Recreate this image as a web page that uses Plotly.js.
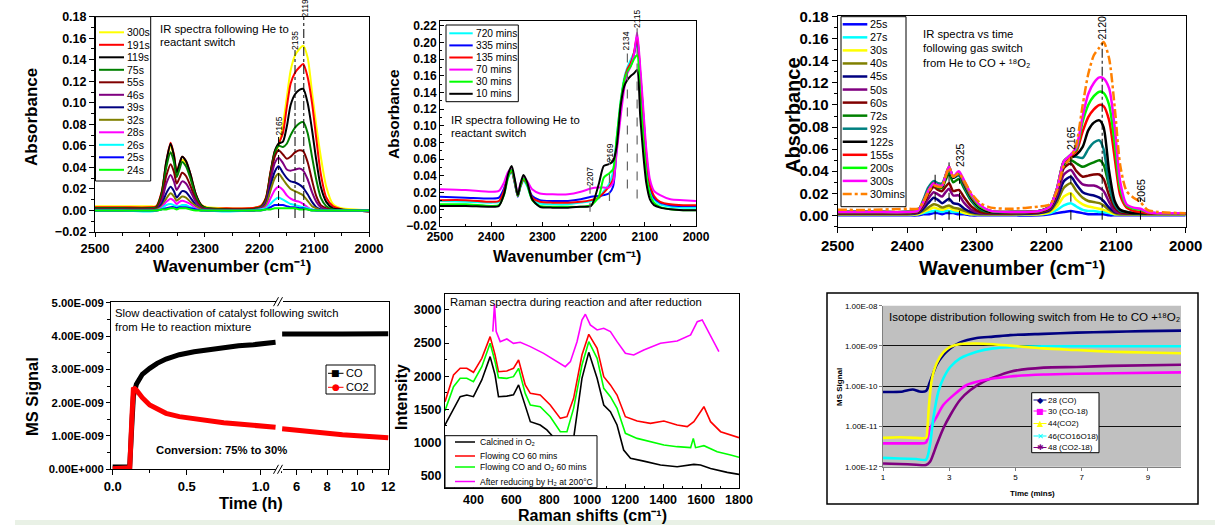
<!DOCTYPE html>
<html><head><meta charset="utf-8">
<script src="https://cdn.plot.ly/plotly-3.0.1.min.js"></script>
<style>html,body{margin:0;padding:0;background:#fff;}#chart{width:1215px;height:525px;}</style>
</head><body><div id="chart"></div>
<script>
// ---------------- DATA ----------------
// Panel 1: IR spectra following He to reactant switch
const p1Wavenumber = [2500,2450,2400,2388,2378,2370,2362,2356,2351,2346,2341,2334,2326,2316,2306,2295,2260,2220,2198,2188,2180,2172,2165,2157,2150,2143,2135,2127,2120,2112,2104,2096,2088,2078,2066,2050,2025,2000];
const p1Labels = ['300s','191s','119s','75s','55s','46s','39s','32s','28s','26s','25s','24s'];
const p1Colors = ['#ffff00','#ff0000','#000000','#008000','#800000','#800080','#000080','#808000','#ff00ff','#00ffff','#0000ff','#00ff00'];
const p1_300s = [0.004,0.004,0.004,0.004,0.017,0.043,0.060,0.050,0.034,0.041,0.047,0.044,0.032,0.014,0.005,0.003,0.002,0.002,0.004,0.012,0.034,0.053,0.060,0.080,0.105,0.130,0.144,0.150,0.153,0.142,0.110,0.078,0.050,0.022,0.006,0.002,0.001,0.000];
const p1_191s = [0.003,0.003,0.003,0.004,0.018,0.045,0.063,0.052,0.036,0.043,0.050,0.046,0.034,0.015,0.005,0.002,0.002,0.002,0.004,0.012,0.035,0.055,0.062,0.072,0.096,0.118,0.128,0.133,0.136,0.124,0.100,0.066,0.034,0.012,0.004,0.001,0.000,-0.001];
const p1_119s = [0.002,0.002,0.002,0.003,0.017,0.045,0.062,0.051,0.035,0.043,0.050,0.046,0.034,0.015,0.005,0.002,0.001,0.001,0.003,0.011,0.034,0.055,0.062,0.064,0.078,0.098,0.108,0.112,0.113,0.100,0.075,0.046,0.022,0.008,0.002,0.001,0.000,-0.001];
const p1_75s  = [0.002,0.002,0.002,0.003,0.015,0.040,0.054,0.045,0.031,0.038,0.045,0.041,0.030,0.013,0.004,0.002,0.001,0.001,0.003,0.010,0.032,0.053,0.060,0.059,0.062,0.070,0.077,0.081,0.082,0.072,0.050,0.028,0.012,0.004,0.001,0.000,0.000,0.000];
const p1_55s  = [0.001,0.001,0.001,0.002,0.012,0.032,0.043,0.036,0.025,0.030,0.035,0.032,0.023,0.010,0.003,0.001,0.001,0.001,0.002,0.009,0.030,0.050,0.056,0.052,0.048,0.050,0.054,0.056,0.055,0.045,0.028,0.013,0.005,0.002,0.000,0.000,0.000,0.000];
const p1_46s  = [0.001,0.001,0.001,0.001,0.009,0.025,0.033,0.027,0.019,0.023,0.027,0.025,0.018,0.008,0.002,0.001,0.000,0.000,0.002,0.008,0.027,0.044,0.049,0.044,0.038,0.037,0.038,0.039,0.037,0.029,0.017,0.008,0.003,0.001,0.000,0.000,0.000,0.000];
const p1_39s  = [0.000,0.000,0.000,0.001,0.006,0.016,0.022,0.018,0.012,0.015,0.018,0.017,0.012,0.005,0.001,0.000,0.000,0.000,0.001,0.006,0.022,0.036,0.041,0.035,0.030,0.027,0.026,0.024,0.021,0.015,0.008,0.003,0.001,0.000,0.000,0.000,0.000,0.000];
const p1_32s  = [0.000,0.000,0.000,0.001,0.004,0.011,0.016,0.013,0.009,0.011,0.013,0.012,0.008,0.004,0.001,0.000,0.000,0.000,0.001,0.005,0.018,0.030,0.034,0.029,0.024,0.020,0.018,0.016,0.014,0.009,0.004,0.002,0.000,0.000,0.000,0.000,0.000,0.000];
const p1_28s  = [0.000,0.000,0.000,0.000,0.003,0.008,0.011,0.009,0.006,0.008,0.009,0.008,0.006,0.002,0.000,0.000,0.000,0.000,0.001,0.003,0.011,0.019,0.022,0.019,0.014,0.011,0.009,0.008,0.006,0.003,0.001,0.000,0.000,0.000,0.000,0.000,0.000,0.000];
const p1_26s  = [0.000,0.000,-0.001,0.000,0.002,0.005,0.006,0.005,0.004,0.004,0.005,0.005,0.003,0.001,0.000,0.000,-0.001,0.000,0.001,0.002,0.006,0.010,0.012,0.010,0.008,0.006,0.005,0.004,0.003,0.002,0.001,0.000,0.000,0.000,0.000,0.000,0.000,0.000];
const p1_25s  = [0.000,0.000,0.000,0.000,0.001,0.002,0.003,0.003,0.002,0.003,0.003,0.003,0.002,0.001,0.000,0.000,0.000,0.000,0.000,0.001,0.003,0.005,0.005,0.005,0.004,0.003,0.003,0.002,0.002,0.001,0.000,0.000,0.000,0.000,0.000,0.000,0.000,0.000];
const p1_24s  = [0.000,0.000,0.000,0.000,0.001,0.001,0.002,0.002,0.001,0.002,0.002,0.002,0.001,0.000,0.000,0.000,0.000,0.000,0.000,0.001,0.001,0.002,0.002,0.002,0.002,0.002,0.002,0.001,0.001,0.001,0.000,0.000,0.000,0.000,0.000,0.000,0.000,0.000];
const p1Series = [p1_300s,p1_191s,p1_119s,p1_75s,p1_55s,p1_46s,p1_39s,p1_32s,p1_28s,p1_26s,p1_25s,p1_24s];
const p1Marks = [2165,2135,2119];
const p1MarkTop = [0.071,0.149,0.180];

// Panel 2: long-time IR spectra
const p2Wavenumber = [2500,2450,2400,2385,2375,2367,2360,2354,2348,2343,2337,2330,2320,2305,2280,2250,2225,2205,2190,2180,2170,2162,2155,2147,2140,2134,2127,2121,2115,2109,2103,2097,2090,2082,2070,2050,2025,2000];
const p2Labels = ['720 mins','335 mins','135 mins','70 mins','30 mins','10 mins'];
const p2Colors = ['#00ffff','#0000ff','#ff0000','#ff00ff','#00ff00','#000000'];
const p2_720 = [0.010,0.009,0.008,0.009,0.020,0.038,0.044,0.031,0.016,0.026,0.034,0.028,0.012,0.007,0.006,0.006,0.008,0.010,0.013,0.022,0.030,0.045,0.085,0.130,0.158,0.170,0.180,0.188,0.198,0.158,0.108,0.058,0.026,0.012,0.006,0.003,0.002,0.002];
const p2_335 = [0.015,0.014,0.013,0.014,0.025,0.041,0.045,0.032,0.015,0.028,0.036,0.031,0.016,0.011,0.010,0.010,0.012,0.015,0.016,0.017,0.019,0.027,0.072,0.120,0.152,0.166,0.174,0.186,0.205,0.162,0.112,0.063,0.029,0.014,0.008,0.005,0.004,0.004];
const p2_135 = [0.011,0.011,0.009,0.010,0.022,0.040,0.045,0.032,0.016,0.027,0.035,0.030,0.014,0.009,0.008,0.008,0.009,0.011,0.014,0.020,0.027,0.036,0.078,0.125,0.155,0.168,0.176,0.188,0.208,0.165,0.115,0.065,0.030,0.016,0.009,0.006,0.005,0.005];
const p2_70  = [0.024,0.023,0.021,0.022,0.032,0.045,0.048,0.035,0.019,0.031,0.038,0.034,0.024,0.019,0.018,0.018,0.021,0.025,0.026,0.026,0.026,0.032,0.068,0.112,0.145,0.163,0.172,0.186,0.212,0.172,0.122,0.072,0.036,0.022,0.017,0.012,0.011,0.010];
const p2_30  = [0.006,0.006,0.004,0.005,0.017,0.038,0.047,0.034,0.016,0.028,0.037,0.030,0.011,0.004,0.003,0.003,0.003,0.005,0.015,0.038,0.043,0.048,0.085,0.130,0.155,0.165,0.172,0.180,0.185,0.135,0.085,0.042,0.018,0.008,0.003,0.000,-0.001,-0.001];
const p2_10  = [0.004,0.004,0.003,0.004,0.018,0.042,0.052,0.036,0.017,0.030,0.041,0.033,0.012,0.003,0.002,0.002,0.003,0.004,0.030,0.052,0.054,0.058,0.075,0.125,0.148,0.155,0.160,0.163,0.167,0.112,0.066,0.031,0.012,0.005,0.002,0.000,-0.001,-0.001];
const p2Series = [p2_720,p2_335,p2_135,p2_70,p2_30,p2_10];
const p2Marks = [2207,2169,2134,2115];
const p2MarkTop = [0.029,0.063,0.191,0.217];
const p2MarkBottom = [-0.003,0.010,0.025,0.013];

// Panel 3: IR spectra vs time, He to CO + 18O2
const p3Wavenumber = [2500,2450,2400,2385,2377,2370,2362,2356,2350,2345,2340,2334,2326,2318,2308,2295,2280,2250,2210,2195,2185,2175,2165,2157,2148,2140,2132,2124,2118,2110,2102,2094,2085,2075,2065,2055,2040,2000];
const p3Labels = ['25s','27s','30s','40s','45s','50s','60s','72s','92s','122s','155s','200s','300s','30mins'];
const p3Colors = ['#0000ff','#00ffff','#ffff00','#808000','#000080','#800080','#800000','#008000','#008080','#000000','#ff0000','#00ff00','#ff00ff','#ff8000'];
const p3_25s  = [0.000,0.000,0.000,0.000,0.001,0.001,0.002,0.002,0.001,0.002,0.002,0.002,0.001,0.001,0.000,0.000,0.000,0.000,0.000,0.001,0.002,0.003,0.004,0.003,0.002,0.001,0.001,0.001,0.001,0.000,0.000,0.000,0.000,0.000,0.000,0.000,0.000,0.000];
const p3_27s  = [0.001,0.001,0.001,0.001,0.002,0.003,0.004,0.004,0.003,0.004,0.004,0.003,0.003,0.002,0.001,0.001,0.001,0.001,0.001,0.002,0.005,0.009,0.011,0.008,0.005,0.004,0.004,0.003,0.003,0.002,0.001,0.001,0.001,0.001,0.001,0.001,0.001,0.001];
const p3_30s  = [0.001,0.001,0.001,0.001,0.003,0.005,0.007,0.006,0.005,0.006,0.007,0.005,0.004,0.002,0.001,0.001,0.001,0.001,0.001,0.003,0.008,0.017,0.020,0.014,0.010,0.008,0.007,0.006,0.005,0.003,0.001,0.001,0.001,0.001,0.001,0.001,0.001,0.001];
const p3_40s  = [0.001,0.001,0.001,0.002,0.004,0.007,0.010,0.009,0.007,0.008,0.009,0.007,0.006,0.004,0.002,0.001,0.001,0.001,0.002,0.004,0.012,0.025,0.029,0.022,0.016,0.013,0.012,0.011,0.009,0.005,0.002,0.001,0.001,0.001,0.001,0.001,0.001,0.001];
const p3_45s  = [0.002,0.002,0.002,0.002,0.006,0.011,0.016,0.014,0.011,0.013,0.015,0.011,0.010,0.006,0.003,0.002,0.002,0.002,0.002,0.005,0.015,0.031,0.035,0.028,0.021,0.019,0.018,0.016,0.013,0.007,0.003,0.002,0.002,0.002,0.002,0.002,0.002,0.002];
const p3_50s  = [0.002,0.002,0.002,0.003,0.008,0.015,0.021,0.019,0.017,0.021,0.024,0.018,0.018,0.011,0.005,0.002,0.002,0.002,0.003,0.006,0.018,0.037,0.041,0.034,0.028,0.027,0.027,0.025,0.022,0.012,0.004,0.002,0.002,0.002,0.002,0.002,0.002,0.002];
const p3_60s  = [0.002,0.002,0.002,0.003,0.010,0.019,0.026,0.023,0.022,0.026,0.029,0.022,0.023,0.016,0.008,0.003,0.002,0.002,0.003,0.007,0.021,0.043,0.047,0.040,0.035,0.036,0.037,0.037,0.033,0.018,0.007,0.003,0.002,0.002,0.002,0.002,0.002,0.002];
const p3_72s  = [0.003,0.003,0.003,0.004,0.012,0.022,0.028,0.025,0.025,0.032,0.038,0.030,0.033,0.024,0.013,0.005,0.003,0.003,0.004,0.008,0.023,0.046,0.050,0.047,0.044,0.046,0.048,0.050,0.046,0.026,0.010,0.004,0.003,0.002,0.002,0.002,0.002,0.002];
const p3_92s  = [0.003,0.003,0.003,0.004,0.014,0.025,0.031,0.029,0.029,0.036,0.043,0.034,0.036,0.026,0.014,0.006,0.003,0.003,0.004,0.008,0.024,0.049,0.053,0.053,0.052,0.060,0.066,0.068,0.060,0.028,0.010,0.004,0.003,0.002,0.002,0.002,0.002,0.002];
const p3_122s = [0.003,0.003,0.003,0.004,0.012,0.022,0.029,0.027,0.026,0.035,0.043,0.034,0.038,0.028,0.016,0.007,0.003,0.003,0.004,0.008,0.023,0.048,0.052,0.055,0.062,0.077,0.084,0.086,0.080,0.040,0.013,0.005,0.003,0.002,0.002,0.002,0.002,0.002];
const p3_155s = [0.003,0.003,0.003,0.004,0.012,0.022,0.029,0.027,0.027,0.036,0.044,0.035,0.038,0.029,0.017,0.008,0.004,0.003,0.004,0.008,0.024,0.049,0.054,0.058,0.076,0.089,0.096,0.100,0.099,0.086,0.052,0.018,0.007,0.004,0.003,0.002,0.002,0.002];
const p3_200s = [0.003,0.003,0.003,0.004,0.012,0.022,0.029,0.027,0.027,0.036,0.044,0.035,0.039,0.030,0.018,0.008,0.004,0.003,0.004,0.008,0.024,0.049,0.055,0.060,0.085,0.100,0.108,0.112,0.111,0.100,0.065,0.024,0.009,0.006,0.005,0.003,0.002,0.002];
const p3_300s = [0.003,0.003,0.003,0.004,0.012,0.022,0.029,0.027,0.027,0.036,0.044,0.035,0.040,0.031,0.019,0.009,0.004,0.003,0.004,0.008,0.024,0.049,0.055,0.062,0.090,0.110,0.120,0.125,0.124,0.115,0.080,0.030,0.010,0.007,0.006,0.003,0.002,0.002];
const p3_30min= [0.005,0.005,0.006,0.006,0.012,0.021,0.027,0.026,0.026,0.035,0.043,0.035,0.038,0.031,0.020,0.011,0.007,0.006,0.008,0.010,0.022,0.045,0.052,0.065,0.100,0.128,0.145,0.152,0.157,0.142,0.098,0.045,0.022,0.016,0.012,0.005,0.003,0.002];
const p3Series = [p3_25s,p3_27s,p3_30s,p3_40s,p3_45s,p3_50s,p3_60s,p3_72s,p3_92s,p3_122s,p3_155s,p3_200s,p3_300s,p3_30min];
const p3Marks = [2360,2340,2325,2165,2120,2065];
const p3MarkTop = [0.037,0.048,0.033,0.059,0.160,0.016];

// Panel 4: MS signal, slow deactivation (time in h, broken axis)
const p4TimeEarly = [0,0.05,0.10,0.115,0.13,0.14,0.16,0.2,0.25,0.3,0.36,0.45,0.55,0.65,0.75,0.85,0.95,1.05,1.10];
const p4CoEarly   = [0.07e-9,0.07e-9,0.07e-9,0.08e-9,1.4e-9,2.2e-9,2.55e-9,2.85e-9,3.03e-9,3.18e-9,3.31e-9,3.44e-9,3.53e-9,3.60e-9,3.66e-9,3.71e-9,3.74e-9,3.78e-9,3.81e-9];
const p4Co2Early  = [0.02e-9,0.02e-9,0.02e-9,0.05e-9,1.6e-9,2.45e-9,2.38e-9,2.15e-9,1.93e-9,1.80e-9,1.68e-9,1.58e-9,1.51e-9,1.45e-9,1.40e-9,1.36e-9,1.33e-9,1.30e-9,1.26e-9];
const p4TimeLate  = [5.05,6,7,8,9,10,11,12];
const p4CoLate    = [4.06e-9,4.07e-9,4.07e-9,4.06e-9,4.06e-9,4.07e-9,4.07e-9,4.07e-9];
const p4Co2Late   = [1.22e-9,1.17e-9,1.12e-9,1.08e-9,1.04e-9,1.01e-9,0.98e-9,0.95e-9];
const p4Labels = ['CO','CO2'];
const p4Colors = ['#000000','#ff0000'];
const p4TickVals = [0,1e-9,2e-9,3e-9,4e-9,5e-9];
const p4TickText = ['0.00E+000','1.00E-009','2.00E-009','3.00E-009','4.00E-009','5.00E-009'];

// Panel 5: Raman spectra
const p5Labels = ['Calcined in O\u2082','Flowing CO 60 mins','Flowing CO and O\u2082 60 mins','After reducing by H\u2082 at 200\u00B0C'];
const p5Colors = ['#000000','#ff0000','#00ff00','#ff00ff'];
const p5CalcX = [250,295,330,365,400,444,488,514,532,576,611,638,673,700,752,787,822,857,892,928,972,1008,1052,1087,1122,1157,1192,1228,1298,1386,1474,1562,1597,1650,1738,1800];
const p5CalcY = [1265,1516,1692,1717,1692,1944,2296,2019,1692,1700,1720,1870,1570,1315,1265,1190,1080,950,900,1063,1969,2361,1969,1566,1466,1265,887,762,720,661,636,671,661,610,550,520];
const p5CoX = [250,295,330,365,400,444,488,514,532,576,611,638,673,700,752,805,858,893,928,972,1008,1052,1087,1122,1157,1201,1263,1333,1404,1474,1527,1562,1615,1650,1703,1756,1800];
const p5CoY = [1617,2019,2120,2120,2060,2270,2598,2321,2069,2080,2120,2245,1870,1742,1717,1566,1365,1390,1667,2321,2633,2422,1994,1870,1717,1390,1325,1290,1325,1265,1240,1315,1541,1315,1164,1114,1074];
const p5CoO2X = [250,295,330,365,400,444,488,514,532,576,611,638,673,700,752,805,858,893,928,972,1008,1052,1087,1122,1157,1201,1263,1333,1404,1474,1545,1559,1571,1615,1685,1756,1800];
const p5CoO2Y = [1481,1843,1969,1969,1918,2145,2497,2220,1979,1969,1994,2120,1742,1566,1541,1390,1164,1164,1516,2170,2522,2270,1818,1692,1516,1139,1063,1013,963,938,923,1063,923,953,862,812,777];
const p5H2X = [502,511,520,541,576,611,647,700,770,840,884,911,946,972,990,1016,1052,1087,1122,1157,1201,1245,1298,1386,1474,1545,1580,1606,1633,1668,1694];
const p5H2Y = [2673,3085,2673,2522,2562,2497,2512,2447,2346,2220,2145,2220,2522,2849,2935,2774,2698,2723,2673,2522,2346,2321,2396,2497,2532,2623,2824,2849,2698,2497,2371];

// Panel 6: isotope distribution (time in mins, log MS signal)
const p6Labels = ['28 (CO)','30 (CO-18)','44(CO2)','46(CO16O18)','48 (CO2-18)'];
const p6Colors = ['#000080','#ff00ff','#ffff00','#00ffff','#800080'];
const p6Symbols = ['\u25C6','\u25A0','\u25B2','\u2715','\u2731'];
const p6CoT = [1,1.3,1.6,1.9,2.1,2.3,2.42,2.62,2.82,3.03,3.33,3.83,4.33,4.84,5.85,6.85,7.86,8.87,10];
const p6CoY = [7.2e-11,7.2e-11,7.4e-11,8.3e-11,7.4e-11,7.6e-11,1.29e-10,3.4e-10,5.9e-10,8.7e-10,1.23e-9,1.58e-9,1.70e-9,1.86e-9,2.0e-9,2.14e-9,2.24e-9,2.34e-9,2.4e-9];
const p6Co18T = [1,1.5,2,2.3,2.42,2.62,2.82,3.13,3.53,4.03,4.84,5.85,6.85,8,10];
const p6Co18Y = [3.8e-12,3.8e-12,3.8e-12,4.0e-12,8.9e-12,1.74e-11,3.4e-11,6.0e-11,1.07e-10,1.41e-10,1.74e-10,1.95e-10,2.04e-10,2.1e-10,2.2e-10];
const p6Co2T = [1,1.5,2,2.3,2.34,2.39,2.47,2.62,2.82,3.03,3.33,3.83,4.33,4.84,5.85,6.85,7.86,8.87,10];
const p6Co2Y = [5.2e-12,5.4e-12,5.2e-12,5.2e-12,8.9e-12,3.4e-11,1.41e-10,3.7e-10,6.9e-10,9.5e-10,1.12e-9,1.15e-9,1.10e-9,1.02e-9,8.7e-10,7.9e-10,7.2e-10,6.9e-10,6.6e-10];
const p6Co1618T = [1,1.5,2,2.3,2.42,2.52,2.67,2.82,3.03,3.33,3.83,4.33,4.84,5.85,7,8.5,10];
const p6Co1618Y = [1.66e-12,1.6e-12,1.55e-12,1.5e-12,3.5e-12,1.6e-11,7.2e-11,1.55e-10,3.0e-10,4.9e-10,7.2e-10,8.7e-10,9.3e-10,9.8e-10,9.8e-10,9.8e-10,9.8e-10];
const p6Co218T = [1,1.5,2,2.3,2.42,2.62,2.82,3.03,3.33,3.63,4.03,4.84,5.85,6.85,7.86,10];
const p6Co218Y = [1.2e-12,1.17e-12,1.12e-12,1.1e-12,1.32e-12,3.5e-12,8.9e-12,1.9e-11,4.6e-11,7.9e-11,1.29e-10,2.3e-10,2.9e-10,3.0e-10,3.2e-10,3.4e-10];
const p6TickVals = [1e-12,1e-11,1e-10,1e-9,1e-8];
const p6TickText = ['1.00E-12','1.00E-11','1.00E-10','1.00E-09','1.00E-08'];

// ---------------- LAYOUT HELPERS ----------------
const W = 1215, H = 525;
const FONT = 'Liberation Sans, Arial, Helvetica, sans-serif';
const fx = p => p / W;
const fy = p => 1 - p / H;
const dX = (a, b) => [a / W, b / W];
const dY = (t, b) => [1 - b / H, 1 - t / H];
const traces = [], shapes = [], annotations = [];
const WAVE_TITLE = 'Wavenumber (cm\u207B\u00B9)';

function lines(xs, series, colors, names, xa, ya, width, dash, shape) {
  series.forEach((ys, i) => traces.push({
    type: 'scatter', mode: 'lines', x: xs, y: ys, name: names[i], xaxis: xa, yaxis: ya,
    line: {color: colors[i], width: width, dash: (dash && dash[i]) || 'solid', shape: shape || 'spline', smoothing: 0.7},
    showlegend: false, hoverinfo: 'skip'
  }));
}
function txt(text, x, y, o) {
  annotations.push(Object.assign({xref: 'paper', yref: 'paper', x: fx(x), y: fy(y), text: text, showarrow: false,
    xanchor: 'left', yanchor: 'middle', borderpad: 0, font: {family: FONT, size: 11.3, color: '#000'}}, o || {}));
}
const bold = s => ({family: FONT, size: s, color: '#000', weight: 700});
function vmark(xa, ya, x, y0, y1, color, dash, width) {
  shapes.push({type: 'line', xref: xa, yref: ya, x0: x, x1: x, y0: y0, y1: y1, line: {color: color, width: width || 1, dash: dash}, layer: 'above'});
}
function legendBox(names, colors, cfg) {
  const [l, t, r, b] = cfg.box;
  shapes.push({type: 'rect', xref: 'paper', yref: 'paper', x0: fx(l), x1: fx(r), y0: fy(b), y1: fy(t), line: {color: '#000', width: 1}, fillcolor: '#fff', layer: 'above'});
  names.forEach((n, i) => {
    const y = cfg.rows ? cfg.rows[i] : cfg.y0 + i * cfg.dy;
    shapes.push({type: 'line', xref: 'paper', yref: 'paper', x0: fx(cfg.lx0), x1: fx(cfg.lx1), y0: fy(y), y1: fy(y),
      line: {color: colors[i], width: cfg.lw, dash: (cfg.dash && cfg.dash[i]) || 'solid'}, layer: 'above'});
    if (cfg.sym) txt(cfg.sym[i], (cfg.lx0 + cfg.lx1) / 2, y, {xanchor: 'center', font: {family: 'DejaVu Sans', size: cfg.symSize, color: colors[i]}});
    txt(n, cfg.tx, y, {font: {family: FONT, size: cfg.size, color: '#000'}});
  });
}
function ax(o) {
  return Object.assign({showline: true, linecolor: '#000', linewidth: 1, mirror: true, ticks: 'outside', ticklen: 5, tickwidth: 1,
    tickcolor: '#000', showgrid: false, zeroline: false, fixedrange: true, automargin: false}, o);
}
const minorOut = d => ({dtick: d, ticks: 'outside', ticklen: 3, tickcolor: '#000'});
const minorIn = d => ({dtick: d, ticks: 'inside', ticklen: 2, tickcolor: '#000'});
const vlab = (s) => ({xanchor: 'center', textangle: -90, font: {family: FONT, size: s, color: '#000'}});
const vtitle = (s) => ({xanchor: 'center', textangle: -90, font: bold(s)});
const htitle = (s) => ({xanchor: 'center', font: bold(s)});

// ---------------- PANEL 1 ----------------
lines(p1Wavenumber, p1Series, p1Colors, p1Labels, 'x', 'y', 2);
p1Marks.forEach((m, i) => vmark('x', 'y', m, -0.007, p1MarkTop[i], '#000', 'dashdot', 1));
txt('2165', 278.5, 126, vlab(8.5));
txt('2135', 295, 41, vlab(8.5));
txt('2119', 304.5, 8, vlab(8.5));
txt('IR spectra following He to', 159, 29);
txt('reactant switch', 159, 42);
legendBox(p1Labels, p1Colors, {box: [95.5, 16.7, 150.7, 181], y0: 32.3, dy: 12.5, lx0: 99, lx1: 124, tx: 125.5, lw: 2, size: 10.5});
txt('Absorbance', 31, 117, vtitle(17));
txt(WAVE_TITLE, 232, 266, htitle(17));

// ---------------- PANEL 2 ----------------
lines(p2Wavenumber, p2Series, p2Colors, p2Labels, 'x2', 'y2', 2);
p2Marks.forEach((m, i) => vmark('x2', 'y2', m, p2MarkBottom[i], p2MarkTop[i], '#666', 'dash', 1.2));
txt('2207', 590, 177, vlab(8.5));
txt('2169', 609.5, 153, vlab(8.5));
txt('2134', 626, 41.5, vlab(8.5));
txt('2115', 637, 19, vlab(8.5));
txt('IR spectra following He to', 450, 120);
txt('reactant switch', 450, 133.3);
legendBox(p2Labels, p2Colors, {box: [446, 25, 518.3, 101.7], y0: 33.3, dy: 12.1, lx0: 449.3, lx1: 472.7, tx: 475, lw: 2, size: 10.2});
txt('Absorbance', 394, 114, vtitle(15.5));
txt(WAVE_TITLE, 567, 256, htitle(16));

// ---------------- PANEL 3 ----------------
const p3Dash = p3Labels.map((n, i) => i === p3Labels.length - 1 ? 'dashdot' : 'solid');
lines(p3Wavenumber, p3Series, p3Colors, p3Labels, 'x3', 'y3', 2.5, p3Dash);
p3Marks.forEach((m, i) => vmark('x3', 'y3', m, -0.004, p3MarkTop[i], '#000', m === 2120 ? 'dashdot' : 'dash', 1));
txt('2325', 960, 155, vlab(10.5));
txt('2165', 1071, 138, vlab(10.5));
txt('2120', 1101.5, 28, vlab(10.5));
txt('2065', 1140.5, 191, vlab(10.5));
txt('IR spectra vs time', 922, 34.3);
txt('following gas switch', 922, 48.3);
txt('from He to CO + \u00B9\u2078O\u2082', 922, 62.7);
legendBox(p3Labels, p3Colors, {box: [841, 16.7, 906, 206.7], y0: 24.3, dy: 13.05, lx0: 842.7, lx1: 867.3, tx: 869, lw: 2.5, size: 10.8, dash: p3Dash});
txt('Absorbance', 793, 115, vtitle(20));
txt(WAVE_TITLE, 1012, 268, htitle(20));

// ---------------- PANEL 4 ----------------
lines(p4TimeEarly, [p4CoEarly, p4Co2Early], p4Colors, p4Labels, 'x4', 'y4', 5, null, 'linear');
lines(p4TimeLate, [p4CoLate, p4Co2Late], p4Colors, p4Labels, 'x5', 'y5', 5, null, 'linear');
[301.7, 469.3].forEach(y => {
  shapes.push({type: 'rect', xref: 'paper', yref: 'paper', x0: fx(276), x1: fx(283), y0: fy(y + 2), y1: fy(y - 2), line: {width: 0}, fillcolor: '#fff', layer: 'above'});
  shapes.push({type: 'line', xref: 'paper', yref: 'paper', x0: fx(273.5), x1: fx(278.5), y0: fy(y + 4.5), y1: fy(y - 4.5), line: {color: '#000', width: 1}, layer: 'above'});
  shapes.push({type: 'line', xref: 'paper', yref: 'paper', x0: fx(277.5), x1: fx(282.5), y0: fy(y + 4.5), y1: fy(y - 4.5), line: {color: '#000', width: 1}, layer: 'above'});
});
txt('Slow deactivation of catalyst following switch', 114, 313);
txt('from He to reaction mixture', 114, 327);
txt('Conversion: 75% to 30%', 155, 450, {font: bold(11.3)});
legendBox(p4Labels, p4Colors, {box: [326, 365, 375, 394], rows: [373.3, 387.3], lx0: 328, lx1: 343.5, tx: 344.5, lw: 1, size: 11, sym: ['\u25A0', '\u25CF'], symSize: 9});
txt('MS Signal', 32, 397, vtitle(16.5));
txt('Time (h)', 251, 503, htitle(16.5));

// ---------------- PANEL 5 ----------------
lines(p5CalcX, [p5CalcY], [p5Colors[0]], [p5Labels[0]], 'x6', 'y6', 1.6, null, 'linear');
lines(p5CoX, [p5CoY], [p5Colors[1]], [p5Labels[1]], 'x6', 'y6', 1.6, null, 'linear');
lines(p5CoO2X, [p5CoO2Y], [p5Colors[2]], [p5Labels[2]], 'x6', 'y6', 1.6, null, 'linear');
lines(p5H2X, [p5H2Y], [p5Colors[3]], [p5Labels[3]], 'x6', 'y6', 1.6, null, 'linear');
txt('Raman spectra during reaction and after reduction', 448.5, 302);
legendBox(p5Labels, p5Colors, {box: [445, 435.7, 597, 487.7], rows: [442, 456, 467, 481.5], lx0: 455, lx1: 475, tx: 478.5, lw: 1.5, size: 8.6});
txt('Intensity', 401, 397, vtitle(16));
txt('Raman shifts (cm\u207B\u00B9)', 592, 515, htitle(16));

// ---------------- PANEL 6 ----------------
shapes.push({type: 'rect', xref: 'paper', yref: 'paper', x0: fx(827), x1: fx(1198), y0: fy(504), y1: fy(293), line: {color: '#000', width: 1.5}, fillcolor: '#fff', layer: 'below'});
shapes.push({type: 'rect', xref: 'paper', yref: 'paper', x0: fx(883), x1: fx(1181), y0: fy(466.7), y1: fy(305.7), line: {width: 0}, fillcolor: '#c0c0c0', layer: 'below'});
const p6T = [p6CoT, p6Co18T, p6Co2T, p6Co1618T, p6Co218T];
const p6Y = [p6CoY, p6Co18Y, p6Co2Y, p6Co1618Y, p6Co218Y];
[0, 4, 1, 3, 2].forEach(i => lines(p6T[i], [p6Y[i]], [p6Colors[i]], [p6Labels[i]], 'x7', 'y7', 2.6, null, 'spline'));
txt('Isotope distribution following switch from He to CO +\u00B9\u2078O\u2082', 888, 316, {font: {family: FONT, size: 11.6, color: '#000'}});
legendBox(p6Labels, p6Colors, {box: [1031.7, 392.7, 1099, 452.7], rows: [400, 411, 423.5, 436, 447.5], lx0: 1033.5, lx1: 1046.5, tx: 1047.3, lw: 1, size: 8, sym: p6Symbols, symSize: 8});
txt('MS Signal', 839, 387, vtitle(8));
txt('Time (mins)', 1032, 493, htitle(8));

// pale strip at bottom
shapes.push({type: 'rect', xref: 'paper', yref: 'paper', x0: fx(15), x1: fx(1215), y0: fy(525), y1: fy(520), line: {width: 0}, fillcolor: '#e9f1e6', layer: 'below'});

const layout = {
  width: W, height: H, autosize: false, margin: {l: 0, r: 0, t: 0, b: 0, pad: 0},
  paper_bgcolor: '#fff', plot_bgcolor: 'rgba(0,0,0,0)', showlegend: false, hovermode: false,
  font: {family: FONT, color: '#000'},
  xaxis: ax({domain: dX(95, 369), range: [2500, 2000], anchor: 'y', tick0: 2000, dtick: 100, ticklen: 4, minor: minorOut(50), tickfont: bold(13)}),
  yaxis: ax({domain: dY(16.7, 232), range: [-0.02, 0.18], anchor: 'x', tick0: 0, dtick: 0.02, tickformat: '.2f', minor: minorOut(0.01), tickfont: bold(12.5)}),
  xaxis2: ax({domain: dX(440, 696), range: [2500, 2000], anchor: 'y2', tick0: 2000, dtick: 100, ticks: 'inside', ticklen: 4, minor: minorIn(50), tickfont: bold(12)}),
  yaxis2: ax({domain: dY(20.7, 226), range: [-0.02, 0.226], anchor: 'x2', tick0: 0, dtick: 0.02, tickformat: '.2f', ticks: 'inside', ticklen: 4, minor: minorIn(0.01), tickfont: bold(12)}),
  xaxis3: ax({domain: dX(837.7, 1185.7), range: [2500, 2000], anchor: 'y3', tick0: 2000, dtick: 100, minor: minorOut(50), tickfont: bold(15)}),
  yaxis3: ax({domain: dY(15.7, 226.7), range: [-0.0103, 0.1809], anchor: 'x3', tick0: 0, dtick: 0.02, tickformat: '.2f', minor: minorOut(0.01), tickfont: bold(15)}),
  xaxis4: ax({domain: dX(111, 280), range: [-0.0115, 1.13], anchor: 'y4', tick0: 0, dtick: 0.5, tickformat: '.1f', minor: minorOut(0.25), tickfont: bold(13)}),
  yaxis4: ax({domain: dY(301.7, 469.3), range: [0, 5.03e-9], anchor: 'x4', mirror: false, tickvals: p4TickVals, ticktext: p4TickText, ticklen: 4, minor: minorOut(0.5e-9), tickfont: bold(11.3)}),
  xaxis5: ax({domain: dX(280, 389), range: [4.91, 12.05], anchor: 'y5', tick0: 6, dtick: 2, minor: minorOut(1), tickfont: bold(13)}),
  yaxis5: ax({domain: dY(301.7, 469.3), range: [0, 5.03e-9], anchor: 'x5', side: 'right', mirror: false, ticks: '', showticklabels: false}),
  xaxis6: ax({domain: dX(445, 739), range: [250, 1800], anchor: 'y6', tick0: 400, dtick: 200, ticks: 'inside', ticklen: 4, minor: minorIn(100), tickfont: bold(12.5)}),
  yaxis6: ax({domain: dY(294, 487.7), range: [319, 3241], anchor: 'x6', tick0: 500, dtick: 500, ticks: 'inside', ticklen: 4, minor: minorIn(250), tickfont: bold(12.5)}),
  xaxis7: ax({domain: dX(883, 1181), range: [1, 10], anchor: 'y7', mirror: false, linecolor: '#808080', tickvals: [1, 3, 5, 7, 9], ticklen: 3, tickcolor: '#808080', tickfont: {family: FONT, size: 8, color: '#000'}}),
  yaxis7: ax({domain: dY(305.7, 466.7), type: 'log', range: [-12, -8], anchor: 'x7', mirror: false, linecolor: '#808080', tickvals: p6TickVals, ticktext: p6TickText, ticklen: 3, tickcolor: '#808080', showgrid: true, gridcolor: '#111', gridwidth: 1, tickfont: {family: FONT, size: 8, color: '#000'}}),
  shapes: shapes, annotations: annotations
};

Plotly.newPlot('chart', traces, layout, {staticPlot: true, displayModeBar: false});
</script></body></html>
